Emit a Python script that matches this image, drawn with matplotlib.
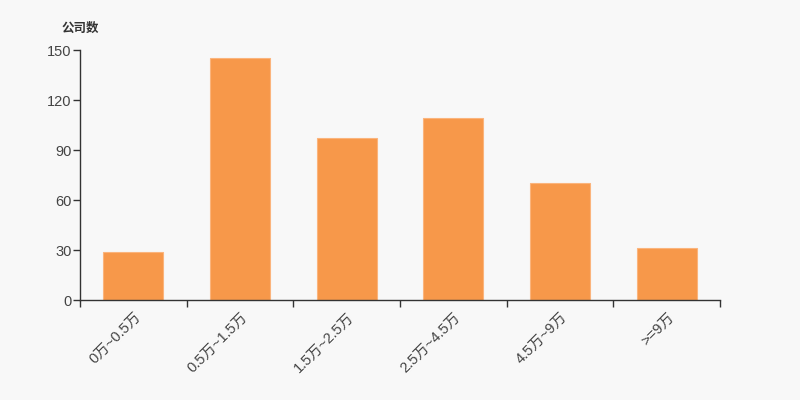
import matplotlib
matplotlib.use("Agg")
import matplotlib.pyplot as plt

plt.rcParams['font.family'] = ['Liberation Sans', 'Noto Sans CJK SC', 'DejaVu Sans']
plt.rcParams['axes.unicode_minus'] = False

categories = ['0万~0.5万', '0.5万~1.5万', '1.5万~2.5万', '2.5万~4.5万', '4.5万~9万', '>=9万']
counts = [29, 145, 97, 109, 70, 31]
yticks = [0, 30, 60, 90, 120, 150]

bg = '#f8f8f8'
fig = plt.figure(figsize=(8, 4), dpi=100, facecolor=bg)
ax = fig.add_axes([0.1, 0.25, 0.8, 0.625], facecolor=bg)

x = range(len(categories))
ax.bar(x, counts, width=0.5625, color='#f7984a', edgecolor='#fbb47c', linewidth=0.8)

ax.set_xlim(-0.5, len(categories) - 0.5)
ax.set_ylim(0, 150)
ax.set_yticks(yticks)

# ticks on category boundaries, labels centred on bars
ax.set_xticks([i - 0.5 for i in range(len(categories) + 1)])
ax.set_xticklabels([])
ax.set_xticks(list(x), minor=True)
ax.set_xticklabels(categories, minor=True, rotation=45, ha='right', va='top',
                   rotation_mode='anchor', fontsize=10.5, color='#444444')
ax.tick_params(axis='x', which='minor', length=0, pad=7)
ax.tick_params(axis='x', which='major', length=5, width=1, color='#333333')
ax.tick_params(axis='y', length=5, width=1, color='#333333', labelsize=10.5,
               labelcolor='#444444', pad=1)

for s in ['top', 'right']:
    ax.spines[s].set_visible(False)
for s in ['left', 'bottom']:
    ax.spines[s].set_color('#333333')
    ax.spines[s].set_linewidth(1)

fig.text(0.0775, 0.93, '公司数', fontsize=9, fontweight='bold', color='#333333',
         ha='left', va='center', family=['Noto Sans CJK SC', 'DejaVu Sans'])

plt.savefig('out.png', dpi=100, facecolor=bg)
